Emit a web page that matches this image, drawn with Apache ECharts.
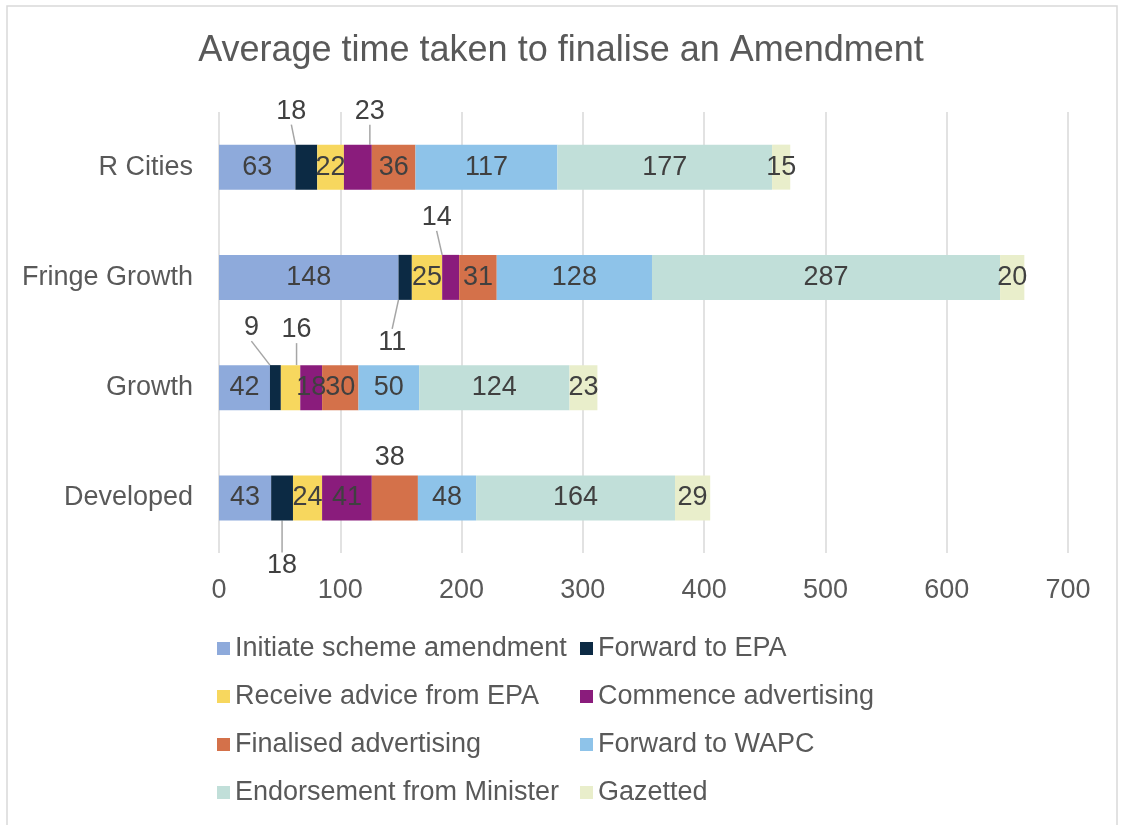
<!DOCTYPE html>
<html>
<head>
<meta charset="utf-8">
<script src="https://cdn.jsdelivr.net/npm/echarts@6/dist/echarts.min.js"></script>
<style>
html,body{margin:0;padding:0;background:#fff;}
#chart{width:1122px;height:825px;}
</style>
</head>
<body>
<div id="chart"></div>
<script>
// ---- Data ----
var categories = ['Developed', 'Growth', 'Fringe Growth', 'R Cities'];
var stages = ['Initiate scheme amendment', 'Forward to EPA', 'Receive advice from EPA', 'Commence advertising',
              'Finalised advertising', 'Forward to WAPC', 'Endorsement from Minister', 'Gazetted'];
var initiate     = [43, 42, 148, 63];
var forwardEPA   = [18, 9, 11, 18];
var receiveEPA   = [24, 16, 25, 22];
var commenceAdv  = [41, 18, 14, 23];
var finalisedAdv = [38, 30, 31, 36];
var forwardWAPC  = [48, 50, 128, 117];
var endorsement  = [164, 124, 287, 177];
var gazetted     = [29, 23, 20, 15];
var xTicks = [0, 100, 200, 300, 400, 500, 600, 700];

var seriesValues = [initiate, forwardEPA, receiveEPA, commenceAdv, finalisedAdv, forwardWAPC, endorsement, gazetted];
var colors = ['#8eaadb', '#0c2a44', '#f7d75e', '#8a1c7c', '#d4714a', '#8ec3e9', '#c1dfd9', '#e9eecb'];

// label offsets for small segments moved outside the bar: key "series:category"
var moved = {
  '1:3': {dx: -15, dy: -56, line: true},
  '3:3': {dx: 12, dy: -56, line: true},
  '1:2': {dx: -13, dy: 65, line: true},
  '3:2': {dx: -14, dy: -60, line: true},
  '1:1': {dx: -24, dy: -60, line: true},
  '2:1': {dx: 6, dy: -58, line: true},
  '1:0': {dx: 0, dy: 68, line: true},
  '4:0': {dx: -5, dy: -40, line: false}
};

var FONT = 'Liberation Sans, Arial, sans-serif';
var FS = 27;
var series = stages.map(function (name, si) {
  return {
    name: name,
    type: 'bar',
    stack: 'total',
    barWidth: 45,
    itemStyle: {color: colors[si]},
    label: {show: true, position: 'inside', color: '#404040', fontSize: FS, fontFamily: FONT},
    labelLine: {show: true, lineStyle: {color: '#a6a6a6', width: 1.5}},
    labelLayout: function (p) {
      var m = moved[p.seriesIndex + ':' + p.dataIndex];
      if (m) return {dx: m.dx, dy: m.dy};
      return {};
    },
    data: seriesValues[si].map(function (v, ci) {
      var m = moved[si + ':' + ci];
      var d = {value: v};
      if (!m || !m.line) d.labelLine = {show: false};
      return d;
    })
  };
});

var chart = echarts.init(document.getElementById('chart'));
var legendText = {color: '#595959', fontSize: FS, fontFamily: FONT, lineHeight: 27};
chart.setOption({
  animation: false,
  backgroundColor: '#fff',
  title: {
    text: 'Average time taken to finalise an Amendment',
    left: 'center', top: 28,
    textStyle: {color: '#595959', fontSize: 36, fontWeight: 'normal', fontFamily: FONT}
  },
  graphic: [{
    type: 'rect', shape: {x: 7, y: 6, width: 1110, height: 830},
    style: {fill: 'none', stroke: '#d9d9d9', lineWidth: 1.5}, silent: true
  }],
  legend: [{
    data: [stages[0], stages[2], stages[4], stages[6]],
    orient: 'vertical', left: 212, top: 630,
    icon: 'rect', itemWidth: 13, itemHeight: 13, itemGap: 21,
    textStyle: legendText
  }, {
    data: [stages[1], stages[3], stages[5], stages[7]],
    orient: 'vertical', left: 575, top: 630,
    icon: 'rect', itemWidth: 13, itemHeight: 13, itemGap: 21,
    textStyle: legendText
  }],
  grid: {left: 219, right: 54, top: 112, bottom: 272, containLabel: false},
  xAxis: {
    type: 'value', min: 0, max: 700, interval: 100,
    axisLine: {show: false}, axisTick: {show: false},
    splitLine: {show: true, lineStyle: {color: '#d9d9d9', width: 1.5}},
    axisLabel: {color: '#595959', fontSize: FS, fontFamily: FONT, margin: 24,
      formatter: function (v) { return xTicks.indexOf(v) >= 0 ? String(v) : ''; }}
  },
  yAxis: {
    type: 'category', data: categories,
    axisLine: {show: false}, axisTick: {show: false},
    axisLabel: {color: '#595959', fontSize: FS, fontFamily: FONT, margin: 26}
  },
  series: series
});
</script>
</body>
</html>
